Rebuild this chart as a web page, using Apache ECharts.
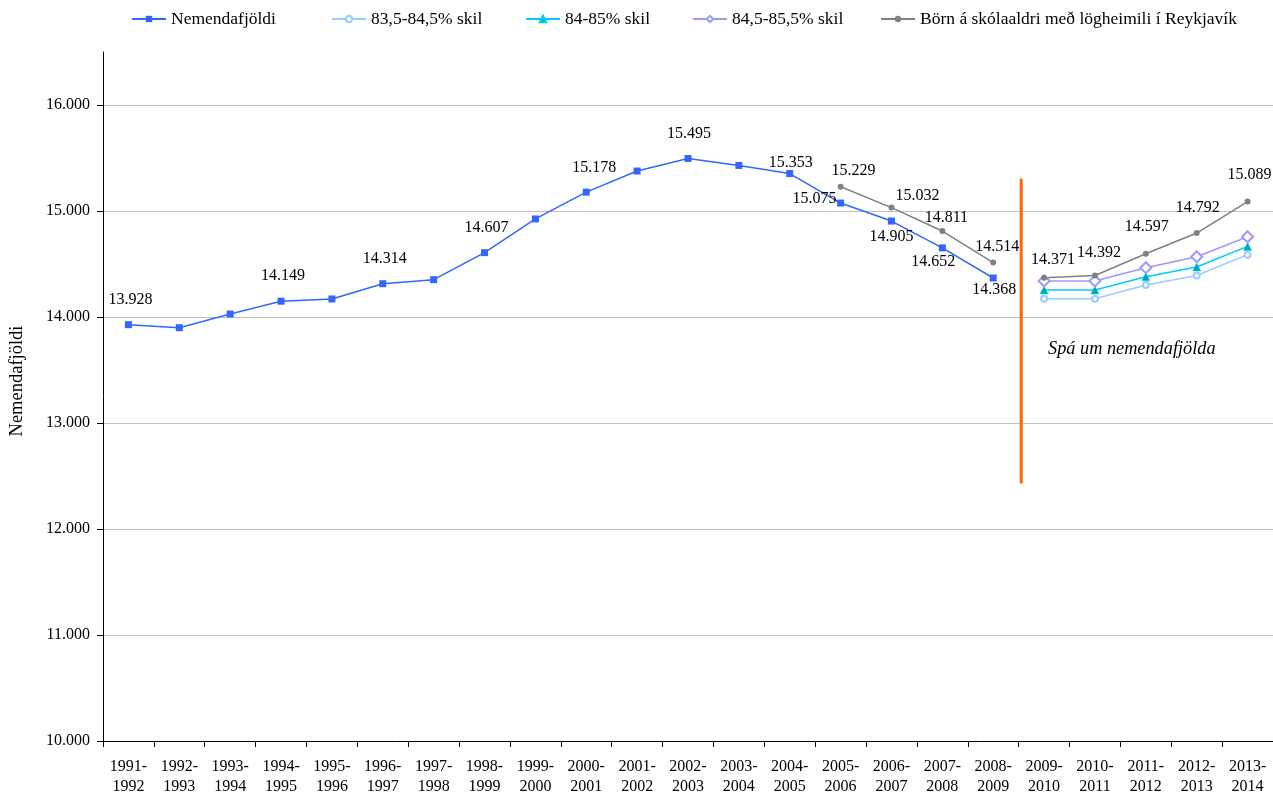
<!DOCTYPE html>
<html><head><meta charset="utf-8">
<script src="https://cdn.jsdelivr.net/npm/echarts@6/dist/echarts.min.js"></script>
<style>html,body{margin:0;padding:0;background:#fff}#c{width:1273px;height:796px}</style>
</head><body><div id="c"></div>
<script>
const categories = ['1991-1992','1992-1993','1993-1994','1994-1995','1995-1996','1996-1997','1997-1998','1998-1999','1999-2000','2000-2001','2001-2002','2002-2003','2003-2004','2004-2005','2005-2006','2006-2007','2007-2008','2008-2009','2009-2010','2010-2011','2011-2012','2012-2013','2013-2014'];
const yTicks = [10000, 11000, 12000, 13000, 14000, 15000, 16000];
const nemendafjoldi = [13928, 13899, 14028, 14149, 14170, 14314, 14352, 14607, 14925, 15178, 15377, 15495, 15430, 15353, 15075, 14905, 14652, 14368, null, null, null, null, null];
const skil835 = [null,null,null,null,null,null,null,null,null,null,null,null,null,null,null,null,null,null, 14173, 14173, 14302, 14392, 14588];
const skil84  = [null,null,null,null,null,null,null,null,null,null,null,null,null,null,null,null,null,null, 14255, 14255, 14380, 14472, 14666];
const skil845 = [null,null,null,null,null,null,null,null,null,null,null,null,null,null,null,null,null,null, 14340, 14340, 14465, 14569, 14757];
const bornPast = [null,null,null,null,null,null,null,null,null,null,null,null,null,null, 15229, 15032, 14811, 14514, null, null, null, null, null];
const bornForecast = [null,null,null,null,null,null,null,null,null,null,null,null,null,null,null,null,null,null, 14371, 14392, 14597, 14792, 15089];
const seriesNames = ['Nemendafjöldi', '83,5-84,5% skil', '84-85% skil', '84,5-85,5% skil', 'Börn á skólaaldri með lögheimili í Reykjavík'];
const forecastDivider = [[18.05, 15305], [18.05, 12430]];
const forecastNote = 'Spá um nemendafjölda';
const yAxisTitle = 'Nemendafjöldi';

// style-only settings
const legendLefts = [131, 331, 525, 692, 880];
const blueLabelOffsets = {0:[2,-25],3:[2,-25],5:[2,-25],7:[2,-25],9:[8,-24],11:[1,-25],13:[1,-11],14:[-26,-4],15:[0,16],16:[-9,14],17:[1,12]};
const greyPastOffsets = {14:[13,-16],15:[26,-12],16:[4,-13],17:[4,-16]};
const greyForecastOffsets = {18:[9,-18],19:[4,-23],20:[1,-27],21:[1,-25],22:[2,-27]};

const FONT = '"Liberation Serif", "Times New Roman", serif';
const fmt = v => String(Math.round(v)).replace(/\B(?=(\d{3})+(?!\d))/g, '.');

function withLabels(values, offsets) {
  return values.map((v, i) => (v != null && offsets[i]) ? {value: v, label: {show: true, offset: offsets[i]}} : v);
}
const baseLabel = {show: false, position: 'inside', color: '#000', fontSize: 16, fontFamily: FONT,
  formatter: p => fmt(p.value)};

const chart = echarts.init(document.getElementById('c'), null, {renderer: 'canvas'});
chart.setOption({
  animation: false,
  backgroundColor: '#fff',
  textStyle: {fontFamily: FONT},
  legend: seriesNames.map((n, i) => ({
    data: [n], top: 10, left: legendLefts[i], padding: 0, itemWidth: 34, itemHeight: 8, itemGap: 0,
    textStyle: {fontSize: 17.5, fontFamily: FONT, color: '#000'}
  })),
  grid: {left: 103, right: 0, top: 52, bottom: 55, containLabel: false, outerBoundsMode: 'none'},
  xAxis: [{
    type: 'category', data: categories, boundaryGap: true,
    axisLine: {lineStyle: {color: '#000', width: 1}},
    axisTick: {show: true, length: 6, interval: 0, lineStyle: {color: '#000'}},
    axisLabel: {interval: 0, margin: 16, fontSize: 16, lineHeight: 20, color: '#000', fontFamily: FONT,
      formatter: s => s.replace('-', '-\n')},
    splitLine: {show: false}
  }, {
    type: 'value', min: 0, max: categories.length, show: false
  }],
  yAxis: {
    type: 'value', min: 10000, max: 16500, interval: 1000,
    axisLine: {show: true, lineStyle: {color: '#000', width: 1}},
    axisTick: {show: true, length: 6, lineStyle: {color: '#000'}, customValues: yTicks},
    axisLabel: {fontSize: 16, color: '#000', fontFamily: FONT, margin: 13, formatter: v => fmt(v), customValues: yTicks},
    splitLine: {show: true, lineStyle: {color: '#c0c0c0', width: 1}}
  },
  series: [
    {name: seriesNames[0], type: 'line', data: withLabels(nemendafjoldi, blueLabelOffsets),
     symbol: 'rect', symbolSize: 7, color: '#3366ff', lineStyle: {width: 1.5, color: '#3366ff'},
     itemStyle: {color: '#3366ff'}, label: baseLabel, z: 3},
    {name: seriesNames[1], type: 'line', data: skil835,
     symbol: 'emptyCircle', symbolSize: 6, color: '#99ccff', lineStyle: {width: 1.5, color: '#99ccff'},
     itemStyle: {color: '#99ccff'}},
    {name: seriesNames[2], type: 'line', data: skil84,
     symbol: 'triangle', symbolSize: 8, color: '#00ccff', lineStyle: {width: 1.5, color: '#00ccff'},
     itemStyle: {color: '#00aaaa', borderColor: '#00ccff', borderWidth: 0.5}},
    {name: seriesNames[3], type: 'line', data: skil845,
     symbol: 'emptyDiamond', symbolSize: 11, color: '#9999ff', lineStyle: {width: 1.5, color: '#9999ff'},
     itemStyle: {color: '#9999ff'}},
    {name: seriesNames[4], type: 'line', data: withLabels(bornPast, greyPastOffsets),
     symbol: 'circle', symbolSize: 6, color: '#808080', lineStyle: {width: 1.5, color: '#808080'},
     itemStyle: {color: '#808080'}, label: baseLabel, z: 3},
    {name: seriesNames[4], type: 'line', data: withLabels(bornForecast, greyForecastOffsets),
     symbol: 'circle', symbolSize: 6, color: '#808080', lineStyle: {width: 1.5, color: '#808080'},
     itemStyle: {color: '#808080'}, label: baseLabel, z: 3},
    {name: 'divider', type: 'line', xAxisIndex: 1, data: forecastDivider, symbol: 'none', silent: true,
     lineStyle: {color: '#ff6600', width: 3}, z: 1}
  ],
  graphic: [
    {type: 'text', left: 1048, top: 340,
     style: {text: forecastNote, font: 'italic 18.3px "Liberation Serif", serif', fill: '#000'}},
    {type: 'text', x: 17.5, y: 381, rotation: Math.PI / 2,
     style: {text: yAxisTitle, font: '18.5px "Liberation Serif", serif', fill: '#000', align: 'center', verticalAlign: 'middle'}}
  ]
});
</script></body></html>
